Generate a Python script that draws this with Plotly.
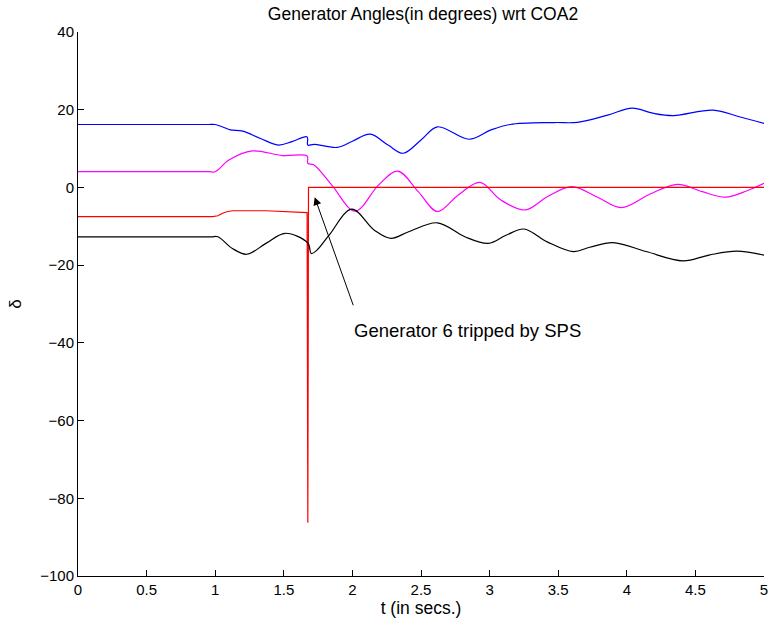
import plotly.graph_objects as go

# Generator angle traces (t in s, delta in degrees)
blue_t = [0, 0.5, 0.95, 1.0, 1.06, 1.11, 1.2, 1.33, 1.46, 1.56, 1.67, 1.675, 1.72, 1.89, 2.0, 2.13, 2.26,
          2.37, 2.5, 2.62, 2.85, 3.01, 3.15, 3.47, 3.64, 3.86, 4.04, 4.19, 4.34, 4.63, 4.82, 5.0]
blue_v = [16.2, 16.2, 16.2, 16.2, 15.5, 14.8, 14.5, 12.6, 10.9, 11.8, 13.0, 10.9, 11.1, 10.3, 11.9, 13.7, 10.9,
          8.8, 12.2, 15.6, 12.4, 14.8, 16.2, 16.7, 16.75, 18.6, 20.4, 19.1, 18.5, 19.9, 18.2, 16.5]

mag_t = [0, 0.5, 0.95, 1.0, 1.10, 1.27, 1.49, 1.67, 1.675, 1.72, 1.85, 2.02, 2.19, 2.33, 2.48, 2.62, 2.77,
         2.93, 3.08, 3.26, 3.42, 3.60, 3.78, 3.96, 4.17, 4.37, 4.55, 4.72, 4.88, 5.0]
mag_v = [4.05, 4.05, 4.05, 4.05, 7.05, 9.4, 8.2, 8.1, 6.2, 5.8, 0.6, -6.1, 0.6, 4.2, -1.1, -6.2, -2.0,
         1.3, -3.2, -5.8, -2.4, 0.2, -2.4, -5.2, -1.7, 0.8, -1.1, -2.5, -0.8, 1.05]

red_t = [0, 0.98, 1.02, 1.05, 1.09, 1.13, 1.37, 1.67, 1.675, 1.68, 5.0]
red_v = [-7.5, -7.5, -7.3, -6.7, -6.2, -6.0, -6.0, -6.5, -86.3, 0.0, 0.0]

blk_t = [0, 0.5, 0.97, 1.02, 1.125, 1.23, 1.37, 1.51, 1.675, 1.70, 1.74, 1.83, 1.995, 2.16, 2.28, 2.41,
         2.62, 2.82, 2.99, 3.12, 3.25, 3.42, 3.61, 3.73, 3.90, 4.14, 4.41, 4.6, 4.80, 5.0]
blk_v = [-12.7, -12.7, -12.7, -12.7, -15.7, -17.2, -14.4, -11.8, -14.3, -17.0, -16.2, -12.3, -5.6, -11.0, -13.1, -11.4,
         -9.1, -12.7, -14.4, -12.3, -10.7, -14.0, -16.5, -15.4, -14.2, -16.5, -18.9, -17.4, -16.4, -17.4]

x_ticks = [0, 0.5, 1, 1.5, 2, 2.5, 3, 3.5, 4, 4.5, 5]
x_ticklabels = ["0", "0.5", "1", "1.5", "2", "2.5", "3", "3.5", "4", "4.5", "5"]
y_ticks = [-100, -80, -60, -40, -20, 0, 20, 40]

title = "Generator Angles(in degrees) wrt COA2"
note = "Generator 6 tripped by SPS"
arrow_head = (1.725, -2.5)
arrow_tail = (2.01, -30.7)
note_pos = (2.0, -36.7)

FONT = "Liberation Sans, Arial, Helvetica, sans-serif"
SM = 1.0

fig = go.Figure()
fig.add_trace(go.Scatter(x=blue_t, y=blue_v, mode="lines",
                         line=dict(color="#0000ff", width=1.2, shape="spline", smoothing=SM)))
fig.add_trace(go.Scatter(x=mag_t, y=mag_v, mode="lines",
                         line=dict(color="#ff00ff", width=1.2, shape="spline", smoothing=SM)))
fig.add_trace(go.Scatter(x=red_t, y=red_v, mode="lines",
                         line=dict(color="#ff0000", width=1.2)))
fig.add_trace(go.Scatter(x=blk_t, y=blk_v, mode="lines",
                         line=dict(color="#000000", width=1.2, shape="spline", smoothing=SM)))

fig.add_annotation(x=arrow_head[0], y=arrow_head[1], ax=arrow_tail[0], ay=arrow_tail[1],
                   axref="x", ayref="y", xref="x", yref="y", text="",
                   showarrow=True, arrowhead=2, arrowsize=1.6, arrowwidth=1, arrowcolor="black")
fig.add_annotation(x=note_pos[0], y=note_pos[1], xref="x", yref="y", text=note,
                   showarrow=False, xanchor="left", yanchor="middle",
                   font=dict(family=FONT, size=18.5, color="black"))

fig.update_layout(
    width=774, height=623,
    margin=dict(l=78, r=6, t=32, b=47),
    paper_bgcolor="white", plot_bgcolor="white",
    showlegend=False,
    font=dict(family=FONT, size=15, color="black"),
    title=dict(text=title, x=(78 + 768) / 2 / 774, xanchor="center", y=1 - 14 / 623, yanchor="middle",
               font=dict(family=FONT, size=17.5, color="black")),
    xaxis=dict(range=[0, 5], tickvals=x_ticks, ticktext=x_ticklabels, ticks="inside", ticklen=6,
               tickcolor="black", showline=True, linecolor="black", linewidth=1, showgrid=False,
               zeroline=False, title=dict(text="t (in secs.)", standoff=3, font=dict(size=17.5)),
               tickfont=dict(size=15)),
    yaxis=dict(range=[-100, 40], tickvals=y_ticks, ticks="inside", ticklen=6,
               tickcolor="black", showline=True, linecolor="black", linewidth=1, showgrid=False,
               zeroline=False, title=dict(text="δ", standoff=14, font=dict(size=17)),
               tickfont=dict(size=15)),
)

fig.write_html("out.html")
